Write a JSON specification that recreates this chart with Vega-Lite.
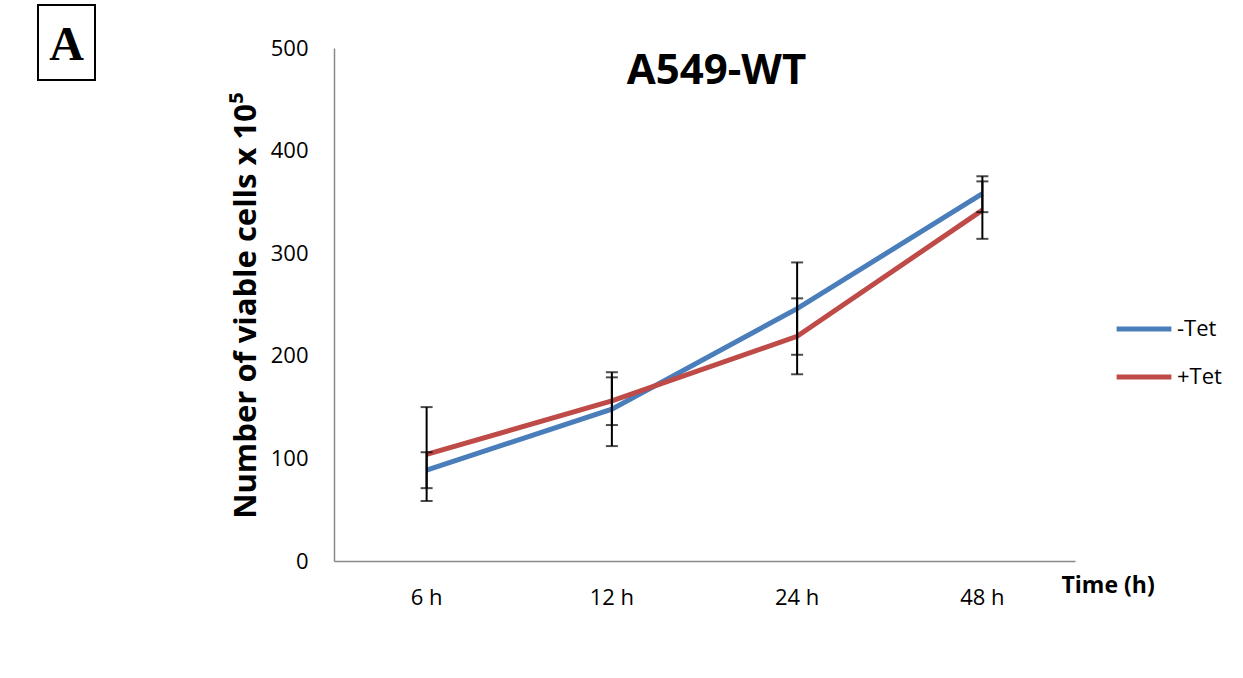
{
  "$schema": "https://vega.github.io/schema/vega-lite/v6.json",
  "padding": {"left": 37, "top": 4, "right": 10, "bottom": 50},
  "autosize": {"type": "pad"},
  "spacing": 134,
  "config": {"view": {"stroke": null}, "font": "Open Sans"},
  "datasets": {
    "cells": [
      {"time": "6 h", "group": "-Tet", "mean": 88.5, "lo": 71, "hi": 106},
      {"time": "12 h", "group": "-Tet", "mean": 148, "lo": 112, "hi": 184},
      {"time": "24 h", "group": "-Tet", "mean": 246, "lo": 201, "hi": 291},
      {"time": "48 h", "group": "-Tet", "mean": 358, "lo": 340, "hi": 375},
      {"time": "6 h", "group": "+Tet", "mean": 104, "lo": 58.5, "hi": 150},
      {"time": "12 h", "group": "+Tet", "mean": 156, "lo": 132.5, "hi": 179},
      {"time": "24 h", "group": "+Tet", "mean": 219, "lo": 182, "hi": 256},
      {"time": "48 h", "group": "+Tet", "mean": 342, "lo": 314, "hi": 370}
    ],
    "panel": [{"label": "A"}]
  },
  "hconcat": [
    {
      "width": 57,
      "height": 75,
      "view": {"stroke": "#000000", "strokeWidth": 2},
      "data": {"name": "panel"},
      "mark": {"type": "text", "font": "Liberation Serif", "fontWeight": "bold", "fontSize": 48, "color": "#000000", "baseline": "middle", "align": "center", "dy": 3},
      "encoding": {"text": {"field": "label"}}
    },
    {
      "width": 741,
      "height": 556,
      "title": {"text": "A549-WT", "fontSize": 42, "fontWeight": "bold", "font": "Open Sans", "color": "#000000", "anchor": "middle", "frame": "group", "offset": -88, "dx": 12},
      "data": {"name": "cells"},
      "encoding": {
        "x": {"field": "time", "type": "ordinal", "sort": ["6 h", "12 h", "24 h", "48 h"],
          "axis": {"labelAngle": 0, "ticks": false, "domainColor": "#888888", "domainWidth": 1.5, "labelFontSize": 22, "labelColor": "#000000", "labelPadding": 36, "labelBaseline": "middle", "labelLimit": 0,
            "title": "Time (h)", "titleFontSize": 23, "titleFontWeight": "bold", "titleColor": "#000000", "titleX": 727, "titleY": 24, "titleAlign": "left", "titleBaseline": "middle"}}
      },
      "layer": [
        {
          "mark": {"type": "line", "strokeWidth": 5},
          "encoding": {
            "y": {"field": "mean", "type": "quantitative", "scale": {"domain": [0, 500], "nice": false, "range": [556, 43]},
              "axis": {"values": [0, 100, 200, 300, 400, 500], "grid": false, "ticks": false, "domainColor": "#888888", "domainWidth": 1.5, "labelFontSize": 22, "labelColor": "#000000", "labelPadding": 26,
                "title": "Number of viable cells x 10⁵", "titleFontSize": 31, "titleFontWeight": "bold", "titleColor": "#000000", "titlePadding": 8, "titleY": 300}},
            "color": {"field": "group", "type": "nominal",
              "scale": {"domain": ["-Tet", "+Tet"], "range": ["#4A7EBB", "#BE4B48"]},
              "legend": {"title": null, "orient": "none", "legendX": 1076, "legendY": 294, "symbolType": "stroke", "symbolStrokeWidth": 5, "symbolSize": 3000, "labelFontSize": 22, "labelColor": "#000000", "labelOffset": 3, "rowPadding": 7}}
          }
        },
        {
          "mark": {"type": "rule", "color": "#000000", "strokeWidth": 2},
          "encoding": {"y": {"field": "lo", "type": "quantitative"}, "y2": {"field": "hi"}}
        },
        {
          "mark": {"type": "tick", "color": "#000000", "thickness": 2, "size": 12},
          "encoding": {"y": {"field": "lo", "type": "quantitative"}}
        },
        {
          "mark": {"type": "tick", "color": "#000000", "thickness": 2, "size": 12},
          "encoding": {"y": {"field": "hi", "type": "quantitative"}}
        }
      ]
    }
  ]
}
